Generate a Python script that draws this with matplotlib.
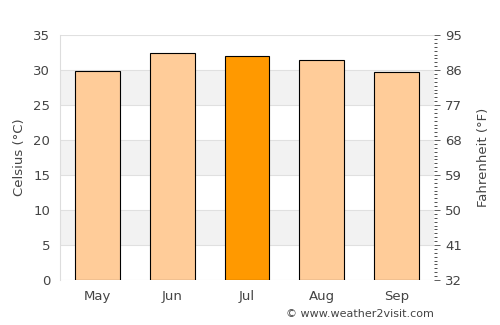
import matplotlib
matplotlib.use("Agg")
import matplotlib.pyplot as plt
from matplotlib.ticker import MultipleLocator

months = ["May", "Jun", "Jul", "Aug", "Sep"]
celsius = [29.8, 32.4, 32.0, 31.5, 29.7]
colors = ["#ffcc99", "#ffcc99", "#ff9900", "#ffcc99", "#ffcc99"]
c_ticks = [0, 5, 10, 15, 20, 25, 30, 35]
f_ticks = [32, 41, 50, 59, 68, 77, 86, 95]

txt = "#444444"
fs = 9.5
fig = plt.figure(figsize=(5, 3.25), dpi=100)
ax = fig.add_axes([0.12, 0.1385, 0.748, 0.7535])
ax.set_xlim(-0.5, len(months) - 0.5)
ax.set_ylim(0, 35)

# background bands
for i in range(len(c_ticks) - 1):
    if i % 2 == 1:
        ax.axhspan(c_ticks[i], c_ticks[i + 1], color="#f2f2f2", zorder=0, lw=0)
for t in c_ticks:
    ax.axhline(t, color="#e0e0e0", lw=0.8, zorder=0.5)

ax.bar(range(len(months)), celsius, width=0.6, color=colors,
       edgecolor="black", linewidth=0.8, zorder=2)

ax.set_xticks(range(len(months)))
ax.set_xticklabels(months)
ax.set_yticks(c_ticks)
ax.tick_params(axis="both", length=0, colors=txt, labelsize=fs, pad=7)
ax.set_ylabel("Celsius (°C)", color=txt, fontsize=fs, labelpad=5)
for s in ["top", "right", "bottom"]:
    ax.spines[s].set_visible(False)
ax.spines["left"].set_color("#dddddd")

ax2 = ax.twinx()
ax2.set_ylim(32, 95)
ax2.set_yticks(f_ticks)
ax2.yaxis.set_minor_locator(MultipleLocator(1))
ax2.tick_params(axis="y", which="major", length=4, width=0.6, colors=txt,
                labelsize=fs, pad=4)
ax2.tick_params(axis="y", which="minor", length=2.5, width=0.6, color="#333333")
for s in ["top", "left", "bottom", "right"]:
    ax2.spines[s].set_visible(False)
ax2.set_ylabel("Fahrenheit (°F)", color=txt, fontsize=fs, labelpad=11)

fig.text(0.868, 0.018, "© www.weather2visit.com", ha="right", va="bottom",
         color=txt, fontsize=8)

fig.savefig("out.png", dpi=100)
